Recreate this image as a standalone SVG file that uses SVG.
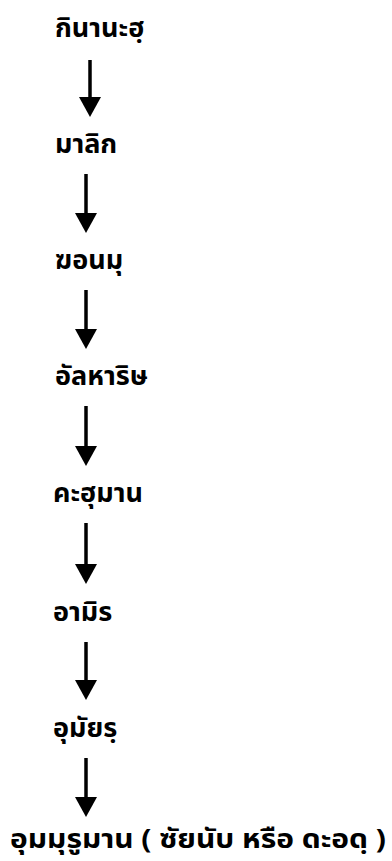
<svg xmlns="http://www.w3.org/2000/svg" width="392" height="861" viewBox="0 0 392 861">
<style>
.lbl{font-family:"Noto Sans Thai","Noto Sans Thai UI","Loma","Garuda","Tahoma","Noto Sans","DejaVu Sans",sans-serif;font-weight:bold;font-size:27px;fill:#000}
.last{font-size:26px}
.conn{stroke:#000;stroke-width:3.5;fill:none}
.head{fill:#000}
</style>
<rect width="392" height="861" fill="#fff"/>
<g id="connectors">
<line class="conn" x1="90" y1="60" x2="90" y2="100"/><polygon class="head" points="79,97 101,97 90,117"/>
<line class="conn" x1="86" y1="174" x2="86" y2="216"/><polygon class="head" points="75,213 97,213 86,233"/>
<line class="conn" x1="86" y1="290" x2="86" y2="332"/><polygon class="head" points="75,329 97,329 86,349"/>
<line class="conn" x1="86" y1="406" x2="86" y2="449"/><polygon class="head" points="75,446 97,446 86,466"/>
<line class="conn" x1="86" y1="523" x2="86" y2="567"/><polygon class="head" points="75,564 97,564 86,584"/>
<line class="conn" x1="86" y1="642" x2="86" y2="683"/><polygon class="head" points="75,680 97,680 86,700"/>
<line class="conn" x1="86" y1="758" x2="86" y2="800"/><polygon class="head" points="75,797 97,797 86,817"/>
</g>
<g id="n1"><text class="lbl" x="55" y="37">กินานะฮฺ</text></g>
<g id="n2"><text class="lbl" x="55" y="153">มาลิก</text></g>
<g id="n3"><text class="lbl" x="55" y="269">ฆอนมุ</text></g>
<g id="n4"><text class="lbl" x="55" y="385">อัลหาริษ</text></g>
<g id="n5"><text class="lbl" x="53" y="502">คะฮุมาน</text></g>
<g id="n6"><text class="lbl" x="53" y="621">อามิร</text></g>
<g id="n7"><text class="lbl" x="53" y="737">อุมัยรฺ</text></g>
<g id="n8"><text class="lbl last" x="10" y="848" textLength="376" lengthAdjust="spacingAndGlyphs">อุมมุรูมาน ( ซัยนับ หรือ ดะอดฺ )</text></g>
</svg>
